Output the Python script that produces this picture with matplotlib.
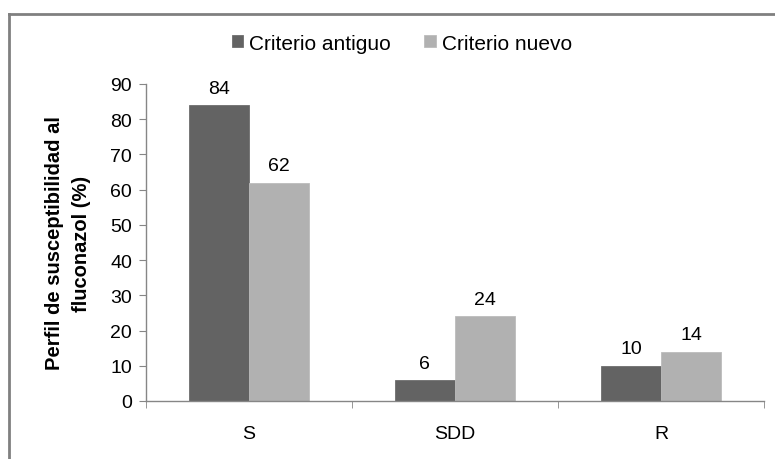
import matplotlib
matplotlib.use("Agg")
import matplotlib.pyplot as plt
from matplotlib.lines import Line2D
import numpy as np

categories = ["S", "SDD", "R"]
series_names = ["Criterio antiguo", "Criterio nuevo"]
antiguo = [84, 6, 10]
nuevo = [62, 24, 14]
yticks = [0, 10, 20, 30, 40, 50, 60, 70, 80, 90]
ylabel = "Perfil de susceptibilidad al\nfluconazol (%)"

plt.rcParams['font.family'] = ['Liberation Sans', 'DejaVu Sans']

fig = plt.figure(figsize=(7.75, 4.6), dpi=100)
W, H = 775, 460
ax = fig.add_axes([146 / W, 1 - 402 / H, (764 - 146) / W, (402 - 85) / H])

dark = "#636363"
light = "#b1b1b1"
x = np.arange(len(categories))
bw = 0.292
b1 = ax.bar(x - bw / 2, antiguo, bw, color=dark, edgecolor="#6e6e6e", linewidth=0.6, label=series_names[0])
b2 = ax.bar(x + bw / 2, nuevo, bw, color=light, edgecolor="#bcbcbc", linewidth=0.6, label=series_names[1])

for bars, vals in ((b1, antiguo), (b2, nuevo)):
    for r, v in zip(bars, vals):
        ax.annotate(str(v), (r.get_x() + r.get_width() / 2, v), xytext=(0, 6),
                    textcoords="offset points", ha="center", va="bottom", fontsize=14)

ax.set_xlim(-0.5, len(categories) - 0.5)
ax.set_ylim(0, 90)
ax.set_yticks(yticks)
ax.set_yticklabels([str(t) for t in yticks], fontsize=14)
ax.set_xticks(x)
ax.set_xticklabels(categories, fontsize=14)
ax.set_xticks(np.arange(len(categories) + 1) - 0.5, minor=True)
ax.tick_params(axis="x", which="major", length=0, pad=17)
ax.tick_params(axis="x", which="minor", length=5, direction="out", color="#868686")
ax.tick_params(axis="y", length=5, direction="out", color="#868686", pad=5)
for s in ("top", "right"):
    ax.spines[s].set_visible(False)
for s in ("left", "bottom"):
    ax.spines[s].set_color("#868686")
    ax.spines[s].set_linewidth(1)

ax.set_ylabel(ylabel, fontsize=14.5, fontweight="bold", labelpad=14, linespacing=1.5)

fig.legend(handles=[b1, b2], labels=series_names, loc="center", bbox_to_anchor=(402 / W, 1 - 44 / H),
           ncol=2, frameon=False, fontsize=15, handlelength=0.55, handleheight=0.55,
           handletextpad=0.3, columnspacing=1.6)

# outer chart border (top and left visible)
fig.add_artist(Line2D([9 / W, 1.0], [1 - 15 / H, 1 - 15 / H], color="#808080", linewidth=2, transform=fig.transFigure))
fig.add_artist(Line2D([9 / W, 9 / W], [0, 1 - 15 / H], color="#808080", linewidth=2, transform=fig.transFigure))

fig.savefig("out.png", dpi=100)
